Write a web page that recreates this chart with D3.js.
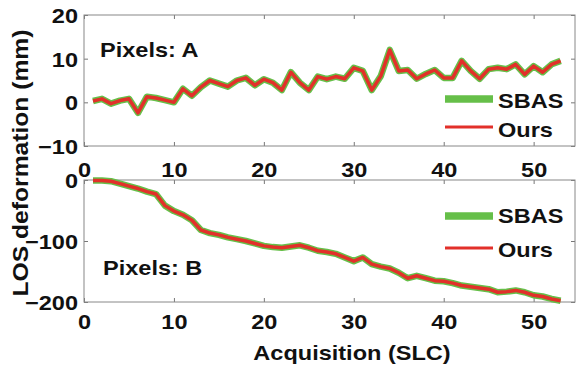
<!DOCTYPE html>
<html><head><meta charset="utf-8">
<script src="https://cdn.jsdelivr.net/npm/d3@7"></script>
<style>body{margin:0;background:#fff}svg{display:block}text{font-family:"Liberation Sans",Arial,sans-serif;font-weight:bold;fill:#111}</style>
</head><body>
<svg id="c" width="576" height="366"></svg>
<script>
const acq = d3.range(1, 54);
const sbasA = [0.3,0.8,-0.3,0.4,0.8,-2.4,1.3,1.0,0.5,0.0,3.1,1.5,3.5,5.0,4.3,3.6,5.0,5.6,3.9,5.3,4.5,2.8,6.9,4.5,2.8,5.9,5.3,5.9,5.4,7.9,7.2,2.8,6.0,12.0,7.2,7.4,5.4,6.5,7.4,5.6,5.6,9.5,7.2,5.4,7.6,7.9,7.6,8.7,6.4,8.3,6.9,8.7,9.5];
const oursA = sbasA.slice();
const sbasB = [-1,-1,-2,-6,-10,-14,-19,-23,-42,-51,-57,-66,-82,-87,-90,-94,-97,-100,-104,-108,-110,-111,-109,-107,-111,-116,-118,-121,-127,-133,-127,-138,-142,-145,-152,-161,-157,-161,-165,-166,-169,-173,-175,-177,-179,-184,-183,-181,-184,-189,-191,-195,-198];
const oursB = sbasB.slice();
const xTicks = [0,10,20,30,40,50];
const yTicksA = [-10,0,10,20];
const yTicksB = [-200,-100,0];
const seriesNames = ["SBAS","Ours"];

const K = 1.12;
function stretch(sel){ sel.each(function(){ const n=this; const L=n.getComputedTextLength(); if(L>0){ n.setAttribute("textLength", L*K); n.setAttribute("lengthAdjust","spacingAndGlyphs"); } }); }

const svg = d3.select("#c");
const x = d3.scaleLinear().domain([0,54.6]).range([84,575]);
const panels = [
  {y: d3.scaleLinear().domain([-10,20]).range([146,15]), ticks: yTicksA, s: sbasA, o: oursA, label:"Pixels: A", lx:100, ly:57, gY:99, rY:127, tG:108, tR:137, xlab:177},
  {y: d3.scaleLinear().domain([-200,0]).range([302,180]), ticks: yTicksB, s: sbasB, o: oursB, label:"Pixels: B", lx:103, ly:275, gY:216, rY:248, tG:223, tR:257, xlab:329}
];
const green = "#66bf49", red = "#e2302a";
panels.forEach(p => {
  const [y0,y1] = p.y.range();
  const g = svg.append("g");
  g.append("g").attr("transform",`translate(0,${y0})`)
    .call(d3.axisBottom(x).tickValues(xTicks).tickSize(-4).tickFormat(d3.format("d")))
    .call(a=>{a.select(".domain").remove(); a.selectAll("line").attr("stroke","#777");
      a.selectAll("text").attr("font-size",21).attr("fill","#111").attr("dy",null).attr("y",p.xlab-y0).call(stretch);});
  g.append("g").attr("transform",`translate(0,${y1})`)
    .call(d3.axisTop(x).tickValues(xTicks).tickSize(-4).tickFormat(""))
    .call(a=>{a.select(".domain").remove(); a.selectAll("line").attr("stroke","#777");});
  g.append("g").attr("transform",`translate(84,0)`)
    .call(d3.axisLeft(p.y).tickValues(p.ticks).tickSize(-4).tickPadding(6).tickFormat(d3.format("d")))
    .call(a=>{a.select(".domain").remove(); a.selectAll("line").attr("stroke","#777");
      a.selectAll("text").attr("font-size",21).attr("fill","#111").attr("dy","0.36em").call(stretch);});
  g.append("g").attr("transform",`translate(575,0)`)
    .call(d3.axisRight(p.y).tickValues(p.ticks).tickSize(-4).tickFormat(""))
    .call(a=>{a.select(".domain").remove(); a.selectAll("line").attr("stroke","#777");});
  g.append("rect").attr("x",84).attr("y",y1).attr("width",575-84).attr("height",y0-y1)
    .attr("fill","none").attr("stroke","#888").attr("stroke-width",1);
  const line = d3.line().x((d,i)=>x(acq[i])).y(d=>p.y(d));
  g.append("path").datum(p.s).attr("d",line).attr("fill","none").attr("stroke",green).attr("stroke-width",6.5).attr("stroke-linejoin","round");
  g.append("path").datum(p.o).attr("d",line).attr("fill","none").attr("stroke",red).attr("stroke-width",3.5).attr("stroke-linejoin","round");
  g.append("text").attr("x",p.lx).attr("y",p.ly).attr("font-size",21).text(p.label).call(stretch);
  const lg = g.append("g");
  lg.append("line").attr("x1",445).attr("x2",493).attr("y1",p.gY).attr("y2",p.gY).attr("stroke",green).attr("stroke-width",7.5);
  lg.append("line").attr("x1",445).attr("x2",493).attr("y1",p.rY).attr("y2",p.rY).attr("stroke",red).attr("stroke-width",3);
  lg.append("text").attr("x",498).attr("y",p.tG).attr("font-size",21).text(seriesNames[0]).call(stretch);
  lg.append("text").attr("x",498).attr("y",p.tR).attr("font-size",21).text(seriesNames[1]).call(stretch);
});
svg.append("text").attr("x",352).attr("y",360).attr("text-anchor","middle").attr("font-size",21).text("Acquisition (SLC)").call(stretch);
svg.append("text").attr("transform","translate(28,163) rotate(-90)").attr("text-anchor","middle").attr("font-size",22).text("LOS deformation (mm)").call(stretch);
</script>
</body></html>
